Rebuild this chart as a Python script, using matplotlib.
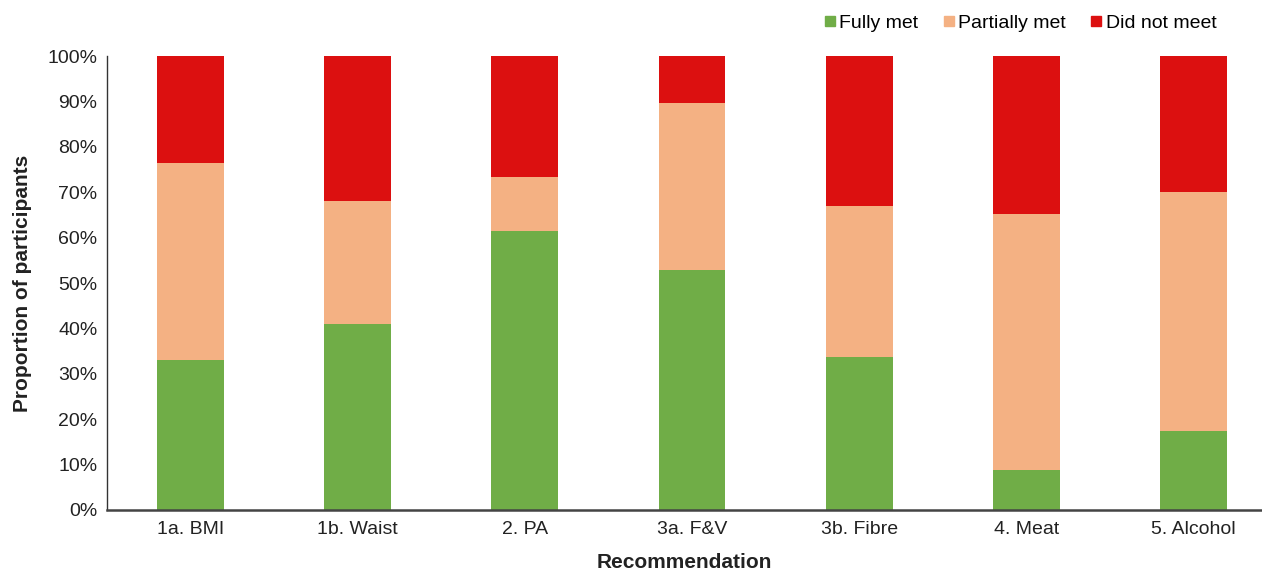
import numpy as np
import matplotlib.pyplot as plt
from matplotlib.lines import Line2D

plt.rcParams['font.family'] = ['Liberation Sans', 'DejaVu Sans']

categories = ['1a. BMI', '1b. Waist', '2. PA', '3a. F&V', '3b. Fibre', '4. Meat', '5. Alcohol']
fully_met = [33.0, 41.0, 61.5, 52.9, 33.7, 8.8, 17.4]
partially_met = [43.4, 27.1, 11.8, 36.7, 33.3, 56.4, 52.6]
did_not_meet = [23.6, 31.9, 26.7, 10.4, 33.0, 34.8, 30.0]

c_green = '#70AD47'
c_peach = '#F4B183'
c_red = '#DC1010'

fig = plt.figure(figsize=(12.62, 5.74), dpi=100)
ax = fig.add_axes([0.0848, 0.1115, 0.9152, 0.7909])

x = np.arange(len(categories))
fm = np.array(fully_met)
pm = np.array(partially_met)
dn = np.array(did_not_meet)
w = 0.4
ax.bar(x, fm, w, color=c_green)
ax.bar(x, pm, w, bottom=fm, color=c_peach)
ax.bar(x, dn, w, bottom=fm + pm, color=c_red)

ax.set_xlim(-0.5, 6.41)
ax.set_ylim(0, 100)
ax.set_yticks(np.arange(0, 101, 10))
ax.set_yticklabels([f'{v}%' for v in range(0, 101, 10)])
ax.set_xticks(x)
ax.set_xticklabels(categories)
ax.tick_params(axis='both', length=0, labelsize=14, colors='#222222', pad=8)
ax.tick_params(axis='y', pad=7)
for s in ['top', 'right']:
    ax.spines[s].set_visible(False)
ax.spines['left'].set_color('#333333')
ax.spines['bottom'].set_color('#444444')
ax.spines['bottom'].set_linewidth(1.8)
ax.spines['left'].set_linewidth(1.0)

ax.set_xlabel('Recommendation', fontsize=15, fontweight='bold', labelpad=11, color='#222222')
ax.set_ylabel('Proportion of participants', fontsize=15, fontweight='bold', labelpad=11, color='#222222')

handles = [Line2D([], [], marker='s', linestyle='', markersize=7, color=c)
           for c in [c_green, c_peach, c_red]]
fig.legend(handles, ['Fully met', 'Partially met', 'Did not meet'], loc='upper right',
           bbox_to_anchor=(0.978, 1.005), ncol=3, frameon=False, fontsize=14,
           handletextpad=0.15, columnspacing=1.2, handlelength=0.7)

fig.savefig('out.png', dpi=100)
